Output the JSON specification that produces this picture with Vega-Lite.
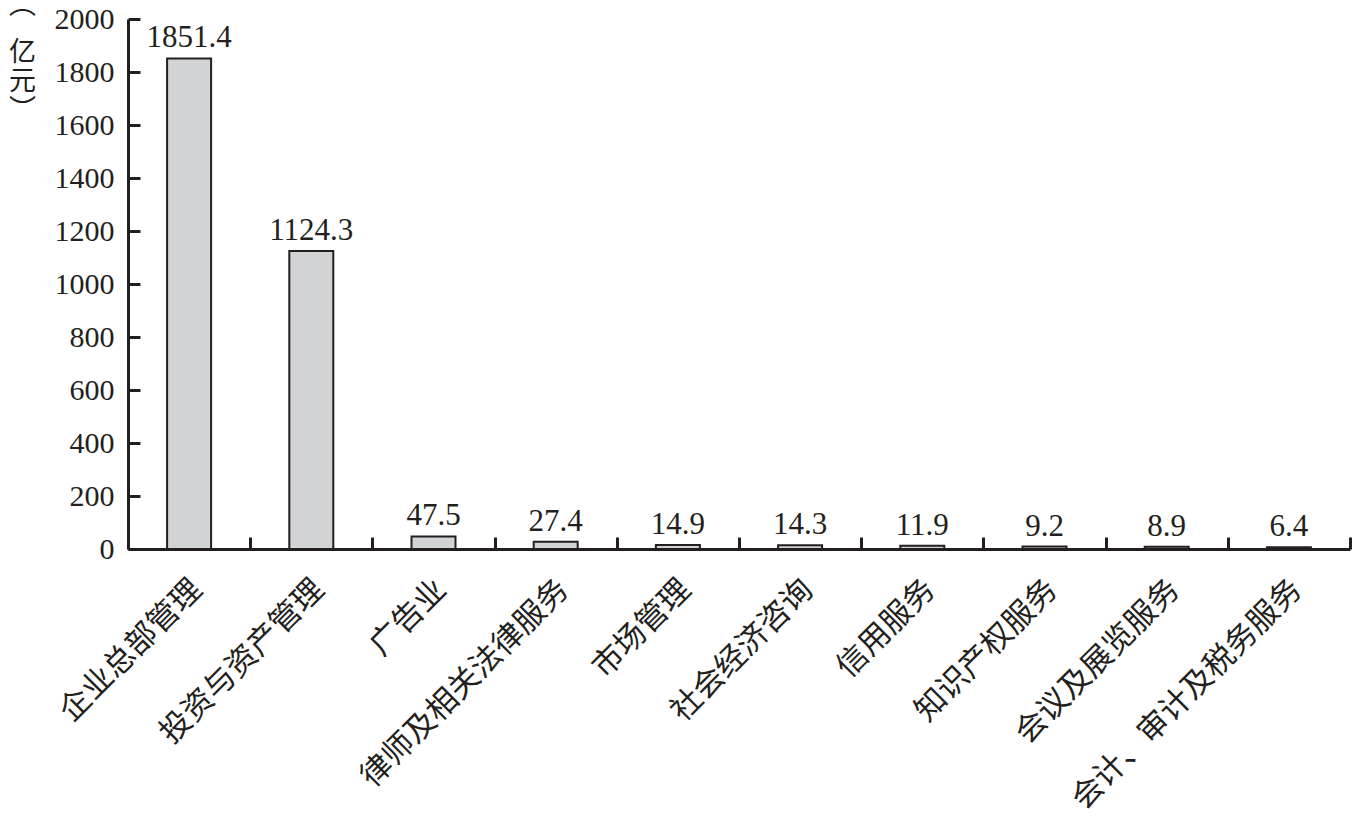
{
  "$schema": "https://vega.github.io/schema/vega-lite/v6.json",
  "width": 1222,
  "height": 530,
  "autosize": "none",
  "padding": {"left": 128, "top": 19, "right": 10, "bottom": 283},
  "background": "white",
  "data": {"values": [
    {"cat": "企业总部管理", "v": 1851.4, "t": "1851.4"},
    {"cat": "投资与资产管理", "v": 1124.3, "t": "1124.3"},
    {"cat": "广告业", "v": 47.5, "t": "47.5"},
    {"cat": "律师及相关法律服务", "v": 27.4, "t": "27.4"},
    {"cat": "市场管理", "v": 14.9, "t": "14.9"},
    {"cat": "社会经济咨询", "v": 14.3, "t": "14.3"},
    {"cat": "信用服务", "v": 11.9, "t": "11.9"},
    {"cat": "知识产权服务", "v": 9.2, "t": "9.2"},
    {"cat": "会议及展览服务", "v": 8.9, "t": "8.9"},
    {"cat": "会计、审计及税务服务", "v": 6.4, "t": "6.4"}
  ]},
  "config": {"view": {"stroke": null}},
  "encoding": {
    "x": {"field": "cat", "type": "nominal", "sort": null,
      "scale": {"paddingInner": 0, "paddingOuter": 0},
      "axis": {"title": null, "tickBand": "extent", "domainColor": "#231f20", "domainWidth": 3,
        "tickColor": "#231f20", "tickWidth": 3, "tickSize": -12,
        "labelAngle": -45, "labelAlign": "right", "labelBaseline": "top",
        "labelFont": "Noto Sans CJK SC", "labelFontSize": 31, "labelColor": "#231f20",
        "labelPadding": 37, "labelOffset": -3, "labelLimit": 0, "labelOverlap": false}},
    "y": {"field": "v", "type": "quantitative",
      "scale": {"domain": [0, 2000], "nice": false},
      "axis": {"values": [0, 200, 400, 600, 800, 1000, 1200, 1400, 1600, 1800, 2000],
        "format": "d",
        "grid": false, "domainColor": "#231f20", "domainWidth": 3,
        "tickColor": "#231f20", "tickWidth": 3, "tickSize": -12,
        "labelFont": "Liberation Serif", "labelFontSize": 30, "labelColor": "#231f20",
        "labelPadding": 26, "labelFlush": false,
        "title": ["⌒", "亿", "元", "︶"], "titleAngle": 0, "titleFont": "Noto Sans CJK SC",
        "titleFontSize": 27, "titleFontWeight": "normal", "titleColor": "#231f20",
        "titleAlign": "center", "titleBaseline": "top", "titleLineHeight": 29,
        "titleX": -106, "titleY": -9}}
  },
  "layer": [
    {"mark": {"type": "bar", "width": {"band": 0.36}, "fill": "#d1d3d4", "stroke": "#231f20", "strokeWidth": 2}},
    {"mark": {"type": "text", "baseline": "alphabetic", "dy": -11, "font": "Liberation Serif", "fontSize": 31, "color": "#231f20"},
      "encoding": {"text": {"field": "t"}}}
  ]
}
